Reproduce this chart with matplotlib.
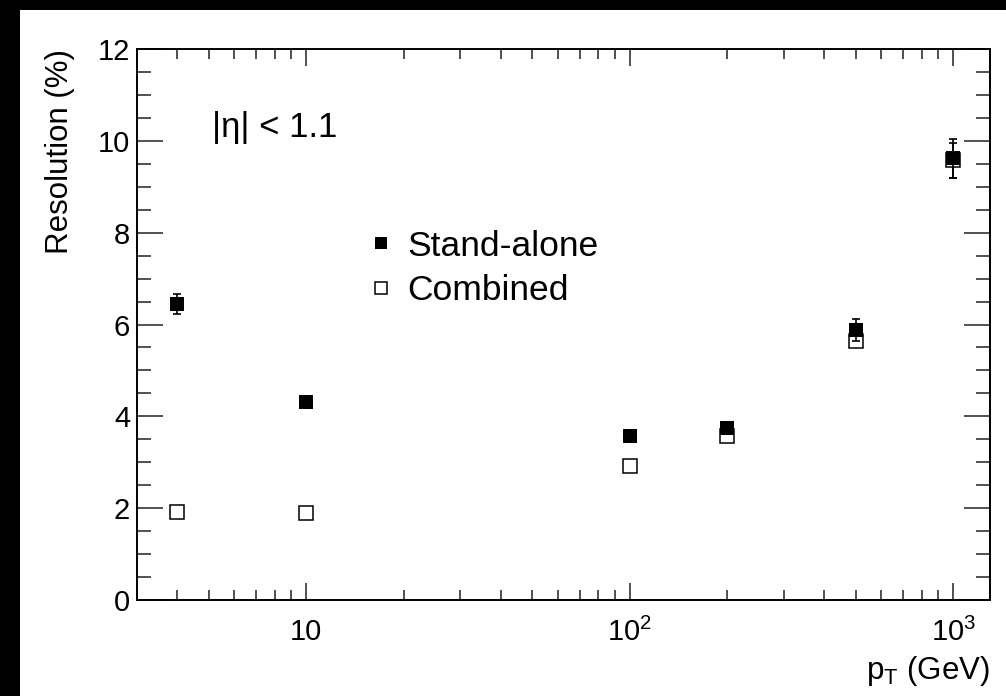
import matplotlib
matplotlib.use("Agg")
import matplotlib.pyplot as plt
import matplotlib.patches as mpatches
from matplotlib.ticker import FixedLocator, FixedFormatter, NullFormatter

plt.rcParams["font.family"] = ["Liberation Sans", "DejaVu Sans"]
plt.rcParams["mathtext.default"] = "regular"

# muon momentum resolution vs pT
pt = [4, 10, 100, 200, 500, 1000]
standalone = [6.45, 4.32, 3.57, 3.75, 5.88, 9.62]
standalone_err = [0.22, 0.05, 0.05, 0.06, 0.23, 0.42]
combined = [1.92, 1.89, 2.92, 3.57, 5.64, 9.58]
combined_err = [0.03, 0.03, 0.03, 0.04, 0.12, 0.38]

x_major = [10, 100, 1000]
x_major_labels = ["10", "$10^2$", "$10^3$"]
x_minor = [m * d for d in (1, 10, 100) for m in range(2, 10)]

W, H = 1006, 696
fig = plt.figure(figsize=(W / 100, H / 100), dpi=100)
fig.patch.set_facecolor("black")
# white canvas inside the black frame
canvas = mpatches.Rectangle((20 / W, 0), 1 - 20 / W, (H - 10) / H,
                            transform=fig.transFigure, facecolor="white",
                            edgecolor="none", zorder=-10)
fig.add_artist(canvas)

ax = fig.add_axes([137 / W, (H - 600) / H, (990 - 137) / W, (600 - 49) / H])
ax.set_zorder(1)
ax.set_facecolor("white")
ax.set_xscale("log")
ax.set_xlim(3.0, 1300)
ax.set_ylim(0, 12)

# combined first, stand-alone drawn on top
ax.errorbar(pt, combined, yerr=combined_err, fmt="none", ecolor="black",
            elinewidth=1.2, capsize=2.6, capthick=1.2, zorder=3)
ax.plot(pt, combined, "s", markerfacecolor="white", markeredgecolor="black",
        markersize=10.5, markeredgewidth=1.1, zorder=3)
ax.errorbar(pt, standalone, yerr=standalone_err, fmt="none", ecolor="black",
            elinewidth=1.2, capsize=2.6, capthick=1.2, zorder=4)
ax.plot(pt, standalone, "s", color="black", markersize=10,
        markeredgewidth=0, zorder=4)

# legend handles
h_sa, = ax.plot([], [], "s", color="black", markersize=8, markeredgewidth=0)
h_co, = ax.plot([], [], "s", markerfacecolor="white", markeredgecolor="black",
                markersize=8.5, markeredgewidth=1.1)

ax.xaxis.set_major_locator(FixedLocator(x_major))
ax.xaxis.set_major_formatter(FixedFormatter(x_major_labels))
ax.xaxis.set_minor_locator(FixedLocator(x_minor))
ax.xaxis.set_minor_formatter(NullFormatter())
ax.yaxis.set_major_locator(FixedLocator([0, 2, 4, 6, 8, 10, 12]))
ax.yaxis.set_minor_locator(FixedLocator([i * 0.5 for i in range(25)]))

for s in ax.spines.values():
    s.set_linewidth(1.4)
ax.tick_params(which="both", direction="in", top=True, right=True,
               width=1.1, labelsize=21, color="#222222")
ax.tick_params(axis="y", which="major", length=19, pad=5)
ax.tick_params(axis="y", which="minor", length=10)
ax.tick_params(axis="x", which="major", length=12.5, pad=13)
ax.tick_params(axis="x", which="minor", length=7.5)

ax.set_ylabel("Resolution (%)", fontsize=22.5, ha="right", y=1.0)
ax.yaxis.set_label_coords(-0.073, 1.0)
ax.set_xlabel("$p_T$ (GeV)", fontsize=22.5, ha="right", x=1.0)
ax.xaxis.set_label_coords(1.0, -0.098)

ax.text(0.088, 0.858, "|η| < 1.1", transform=ax.transAxes, fontsize=25,
        va="center", ha="left")

ax.legend([h_sa, h_co], ["Stand-alone", "Combined"], loc="center left",
          bbox_to_anchor=(0.272, 0.602), frameon=False, fontsize=25.5,
          handlelength=0.67, handletextpad=0.4, labelspacing=0.32,
          borderpad=0, borderaxespad=0)

fig.savefig("out.png", dpi=100, facecolor=fig.get_facecolor())
